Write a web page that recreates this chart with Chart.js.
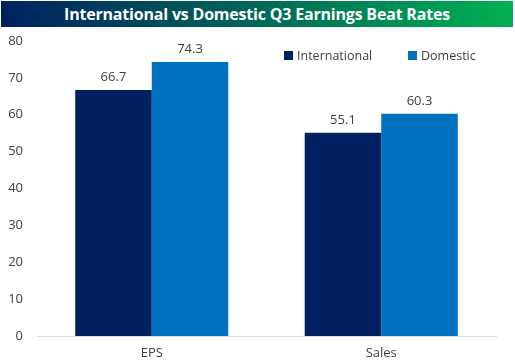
<!DOCTYPE html>
<html>
<head>
<meta charset="utf-8">
<script src="https://cdn.jsdelivr.net/npm/chart.js@4"></script>
<style>
  body { margin: 0; background: #fff; }
  #wrap { position: relative; width: 515px; height: 362px; }
  #title {
    position: absolute; left: 1px; top: 1px; width: 512px; height: 26px;
    background: linear-gradient(to right, #002060, #00B050);
    color: #fff; font: bold 16px "Open Sans", sans-serif;
    text-align: center; line-height: 26px; letter-spacing: -0.2px;
  }
  #legend { position: absolute; top: 47px; left: 284px; font: 12.5px "Open Sans", sans-serif; color: #404040; }
  #legend span.box { display: inline-block; width: 9px; height: 9px; margin-right: 4px; }
  #legend .item { position: absolute; white-space: nowrap; }
  canvas { position: absolute; left: 0; top: 0; }
</style>
</head>
<body>
<div id="wrap">
  <canvas id="chart" width="515" height="362"></canvas>
  <div id="title">International vs Domestic Q3 Earnings Beat Rates</div>
  <div id="legend"></div>
</div>
<script>
// 데이터
const categories = ['EPS', 'Sales'];
const internationalValues = [66.7, 55.1];
const domesticValues = [74.3, 60.3];
const seriesNames = ['International', 'Domestic'];
const seriesColors = ['#002060', '#0070C0'];

// 범례 (차트 안쪽에 표시)
const legendEl = document.getElementById('legend');
const legendX = [0, 124];
seriesNames.forEach((name, i) => {
    const item = document.createElement('div');
    item.className = 'item';
    item.style.left = legendX[i] + 'px';
    item.innerHTML = '<span class="box" style="background:' + seriesColors[i] + '"></span>' + name;
    legendEl.appendChild(item);
});

// 막대 위 값 표시 플러그인
const valueLabels = {
    id: 'valueLabels',
    afterDatasetsDraw(chart) {
        const c = chart.ctx;
        c.save();
        c.font = '13px "Open Sans", sans-serif';
        c.fillStyle = '#404040';
        c.textAlign = 'center';
        c.textBaseline = 'bottom';
        chart.data.datasets.forEach((ds, i) => {
            chart.getDatasetMeta(i).data.forEach((bar, j) => {
                c.fillText(ds.data[j].toFixed(1), bar.x, bar.y - 6);
            });
        });
        c.restore();
    }
};

const ctx = document.getElementById('chart').getContext('2d');
const myChart = new Chart(ctx, {
    type: 'bar',
    data: {
        labels: categories,
        datasets: [
            { label: seriesNames[0], data: internationalValues, backgroundColor: seriesColors[0] },
            { label: seriesNames[1], data: domesticValues, backgroundColor: seriesColors[1] }
        ]
    },
    options: {
        responsive: false,
        animation: false,
        layout: { padding: { top: 41, right: 19, left: 0, bottom: 0 } },
        datasets: { bar: { categoryPercentage: 0.667, barPercentage: 1 } },
        plugins: { legend: { display: false }, tooltip: { enabled: false } },
        scales: {
            x: {
                grid: { display: false, drawTicks: false },
                border: { display: true, color: '#d9d9d9', width: 1 },
                ticks: { color: '#404040', font: { family: 'Open Sans', size: 13 }, padding: 9 },
                afterFit(scale) { scale.height = 26; }
            },
            y: {
                min: 0, max: 80,
                grid: { display: false, drawTicks: false },
                border: { display: false },
                ticks: { stepSize: 10, color: '#404040', font: { family: 'Open Sans', size: 13 }, padding: 14 },
                afterFit(scale) { scale.width = 37; }
            }
        }
    },
    plugins: [valueLabels]
});
</script>
</body>
</html>
